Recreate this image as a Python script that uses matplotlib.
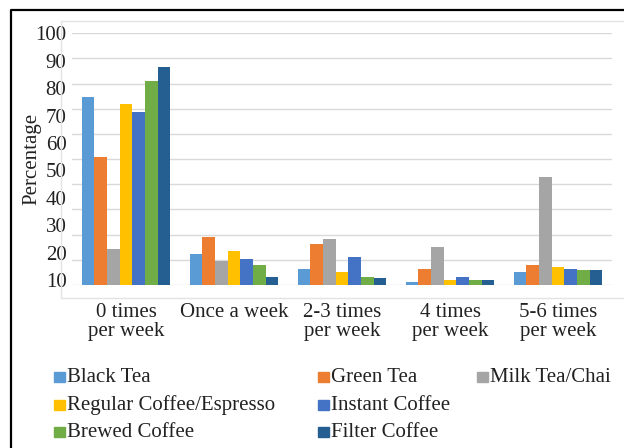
import numpy as np
import matplotlib.pyplot as plt
from matplotlib.patches import Rectangle
from matplotlib.lines import Line2D

plt.rcParams['font.family'] = ['Liberation Serif', 'DejaVu Serif']

categories = ['0 times\nper week', 'Once a week', '2-3 times\nper week',
              '4 times\nper week', '5-6 times\nper week']
series = ['Black Tea', 'Green Tea', 'Milk Tea/Chai', 'Regular Coffee/Espresso',
          'Instant Coffee', 'Brewed Coffee', 'Filter Coffee']
colors = ['#5B9BD5', '#ED7D31', '#A5A5A5', '#FFC000', '#4472C4', '#70AD47', '#255E91']

black_tea = [74.6, 12.4, 6.4, 1.3, 5.3]
green_tea = [50.7, 18.9, 16.3, 6.4, 7.9]
milk_tea = [14.3, 9.5, 18.3, 15.1, 42.8]
regular_coffee = [72.0, 13.6, 5.3, 2.0, 7.2]
instant_coffee = [68.7, 10.3, 11.1, 3.2, 6.4]
brewed_coffee = [81.0, 7.8, 3.2, 2.0, 6.0]
filter_coffee = [86.5, 3.2, 2.8, 2.0, 6.0]
values = [black_tea, green_tea, milk_tea, regular_coffee,
          instant_coffee, brewed_coffee, filter_coffee]

ytick_labels = ['10', '20', '30', '40', '50', '60', '70', '80', '90', '100']

W, H = 624, 448
fig = plt.figure(figsize=(W / 100, H / 100), dpi=100)

# outer frame + faint plot-area box (both run off the right/bottom edge)
fig.add_artist(Line2D([11 / W, 11 / W, 1.01], [-0.01, 1 - 10 / H, 1 - 10 / H],
                      color='black', lw=1.6, transform=fig.transFigure))
fig.add_artist(Line2D([1.01, 60.5 / W, 60.5 / W, 1.01],
                      [1 - 20.7 / H, 1 - 20.7 / H, 1 - 298 / H, 1 - 298 / H],
                      color='#e3e3e3', lw=1, transform=fig.transFigure))

ax = fig.add_axes([72 / W, 1 - 285 / H, 540 / W, (285 - 33.3) / H])
x = np.arange(len(categories))
n = len(series)
bw = 0.82 / n
for i, (name, vals) in enumerate(zip(series, values)):
    ax.bar(x + (i - (n - 1) / 2) * bw, vals, width=bw, color=colors[i],
           label=name, zorder=2)

for g in range(0, 101, 10):
    ax.axhline(g, color='#d9d9d9', lw=1, zorder=1)

ax.set_xlim(-0.5, len(categories) - 0.5)
ax.set_ylim(0, 100)
ax.set_yticks(np.linspace(2, 100, len(ytick_labels)))
ax.set_yticklabels(ytick_labels)
ax.set_xticks(x)
ax.set_xticklabels(categories, linespacing=1.02)
ax.tick_params(axis='y', length=0, pad=4, labelsize=15, colors='#222222')
ax.tick_params(axis='x', length=0, pad=13, labelsize=15, colors='#222222')
for s in ax.spines.values():
    s.set_visible(False)
ax.set_ylabel('Percentage', fontsize=15, color='#222222', labelpad=-4)

# legend laid out in the reference's irregular grid
slots = [(54, 377), (318, 377), (477, 377),
         (54, 405), (318, 405),
         (54, 432), (318, 432)]
for (px, py), name, c in zip(slots, series, colors):
    fig.add_artist(Rectangle((px / W, 1 - (py + 5) / H), 11 / W, 10 / H,
                             color=c, transform=fig.transFigure))
    fig.text((px + 13) / W, 1 - py / H, name, fontsize=15, color='#222222',
             va='center', ha='left')

fig.savefig('out.png', dpi=100)
